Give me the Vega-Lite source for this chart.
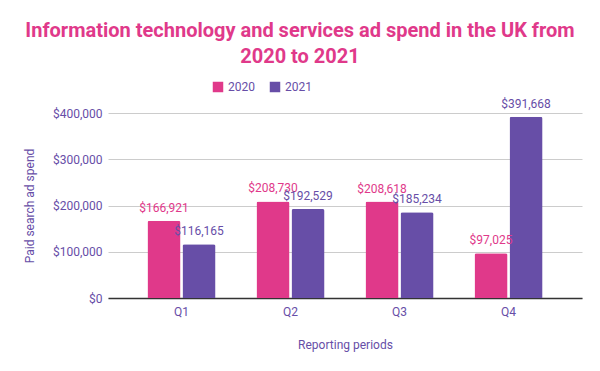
{
  "$schema": "https://vega.github.io/schema/vega-lite/v6.json",
  "autosize": {"type": "none"},
  "padding": {"left": 108, "top": 113, "right": 18, "bottom": 73},
  "width": 474,
  "height": 185,
  "background": "white",
  "config": {
    "font": "Roboto",
    "view": {"stroke": null}
  },
  "title": {
    "text": ["Information technology and services ad spend in the UK from", "2020 to 2021"],
    "color": "#e0398a",
    "fontSize": 20,
    "fontWeight": "bold",
    "font": "Roboto",
    "anchor": "middle",
    "dx": -45,
    "lineHeight": 26,
    "offset": 14
  },
  "data": {
    "values": [
      {"period": "Q1", "year": "2020", "spend": 166921},
      {"period": "Q1", "year": "2021", "spend": 116165},
      {"period": "Q2", "year": "2020", "spend": 208730},
      {"period": "Q2", "year": "2021", "spend": 192529},
      {"period": "Q3", "year": "2020", "spend": 208618},
      {"period": "Q3", "year": "2021", "spend": 185234},
      {"period": "Q4", "year": "2020", "spend": 97025},
      {"period": "Q4", "year": "2021", "spend": 391668}
    ]
  },
  "encoding": {
    "x": {
      "field": "period",
      "type": "nominal",
      "scale": {"paddingInner": 0.376, "paddingOuter": 0.362},
      "axis": {
        "title": "Reporting periods",
        "labelAngle": 0,
        "labelColor": "#674ea7",
        "labelFontSize": 12,
        "labelPadding": 8,
        "titleColor": "#674ea7",
        "titleFontSize": 12,
        "titleFontWeight": "normal",
        "titlePadding": 22,
        "ticks": false,
        "domainColor": "#333333",
        "domainWidth": 1.5
      }
    },
    "xOffset": {"field": "year", "type": "nominal", "scale": {"paddingInner": 0.057}},
    "y": {
      "field": "spend",
      "type": "quantitative",
      "scale": {"domain": [0, 400000]},
      "axis": {
        "title": "Paid search ad spend",
        "values": [0, 100000, 200000, 300000, 400000],
        "format": "$,.0f",
        "labelColor": "#674ea7",
        "labelFontSize": 12,
        "labelPadding": 6,
        "titleColor": "#674ea7",
        "titleFontSize": 12,
        "titleFontWeight": "normal",
        "titlePadding": 16,
        "ticks": false,
        "domain": false,
        "gridColor": "#cccccc"
      }
    },
    "color": {
      "field": "year",
      "type": "nominal",
      "scale": {"domain": ["2020", "2021"], "range": ["#e0398a", "#674ea7"]},
      "legend": {
        "title": null,
        "orient": "none",
        "direction": "horizontal",
        "legendX": 104,
        "legendY": -32,
        "symbolType": "square",
        "symbolSize": 110,
        "labelColor": "#674ea7",
        "labelFontSize": 12,
        "columnPadding": 14
      }
    }
  },
  "layer": [
    {"mark": {"type": "bar", "cornerRadiusEnd": 2}},
    {
      "mark": {"type": "text", "dy": -6, "baseline": "bottom", "fontSize": 12},
      "encoding": {
        "text": {"field": "spend", "type": "quantitative", "format": "$,.0f"}
      }
    }
  ]
}
